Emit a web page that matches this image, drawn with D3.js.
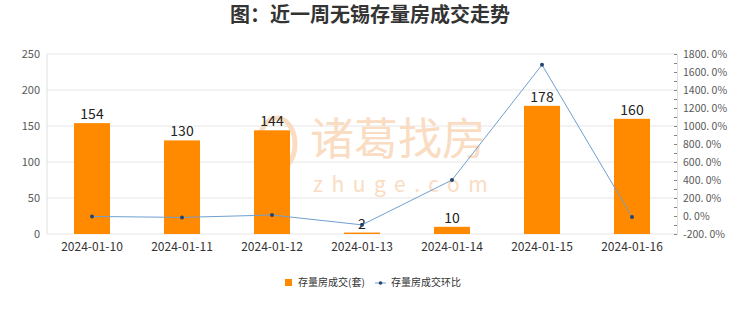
<!DOCTYPE html>
<html>
<head>
<meta charset="utf-8">
<script src="https://cdn.jsdelivr.net/npm/d3@7"></script>
<style>
  body { margin: 0; background: #fff; }
  text { font-family: "Noto Sans CJK SC", "DejaVu Sans", sans-serif; }
</style>
</head>
<body>
<div id="chart"></div>
<script>
// data
var dates = ["2024-01-10", "2024-01-11", "2024-01-12", "2024-01-13", "2024-01-14", "2024-01-15", "2024-01-16"];
var deals = [154, 130, 144, 2, 10, 178, 160];
var ratio = [-5, -15.6, 10.8, -98.6, 400, 1680, -10.1];
var leftTicks = [0, 50, 100, 150, 200, 250];
var rightTicks = [-200, 0, 200, 400, 600, 800, 1000, 1200, 1400, 1600, 1800];

var svgWidth = 740, svgHeight = 312;
var margin = {top: 54, right: 63, bottom: 78, left: 47};
var width = svgWidth - margin.left - margin.right;
var height = svgHeight - margin.top - margin.bottom;

var svg = d3.select("#chart").append("svg")
  .attr("width", svgWidth)
  .attr("height", svgHeight);

// title
svg.append("text")
  .attr("x", 370).attr("y", 22)
  .attr("text-anchor", "middle")
  .attr("font-size", 20).attr("font-weight", "bold")
  .attr("fill", "#333")
  .text("图：近一周无锡存量房成交走势");

var chartGroup = svg.append("g")
  .attr("transform", `translate(${margin.left}, ${margin.top})`);

var x = d3.scaleBand().domain(dates).range([0, width]).paddingInner(0.6).paddingOuter(0.3);
var y = d3.scaleLinear().domain([0, 250]).range([height, 0]);
var y2 = d3.scaleLinear().domain([-200, 1800]).range([height, 0]);

// gridlines
chartGroup.selectAll(".grid").data(leftTicks).enter().append("line")
  .attr("x1", 0).attr("x2", width)
  .attr("y1", d => y(d)).attr("y2", d => y(d))
  .attr("stroke", "#e6e6e6");
chartGroup.append("line")
  .attr("x1", 0).attr("x2", 0).attr("y1", 0).attr("y2", height)
  .attr("stroke", "#e0e0e0");

// watermark
var wm = chartGroup.append("g").attr("fill", "#fadcc2");
wm.append("ellipse").attr("cx", 230).attr("cy", 90).attr("rx", 18).attr("ry", 26)
  .attr("fill", "none").attr("stroke", "#fadcc2").attr("stroke-width", 5);
wm.append("text").attr("x", 263).attr("y", 101).attr("font-size", 44)
  .text("诸葛找房");
wm.append("text").attr("x", 266).attr("y", 138).attr("font-size", 21)
  .attr("font-family", "DejaVu Sans")
  .attr("letter-spacing", 8.5).text("zhuge.com");

// left axis labels
chartGroup.selectAll(".ly").data(leftTicks).enter().append("text")
  .attr("x", -7).attr("y", d => y(d) + 4)
  .attr("text-anchor", "end").attr("font-size", 11).attr("fill", "#595959")
  .text(d => d);

// right axis
var rightAxis = d3.axisRight(y2).tickValues(d3.range(-200, 1801, 100))
  .tickSize(-3).tickFormat("");
var ra = chartGroup.append("g").attr("transform", `translate(${width}, 0)`).call(rightAxis);
ra.select(".domain").attr("stroke", "#e0e0e0");
ra.selectAll(".tick line").attr("stroke", "#888");
chartGroup.selectAll(".ry").data(rightTicks).enter().append("text")
  .attr("x", width + 6).attr("y", d => y2(d) + 4)
  .attr("font-size", 10.5).attr("fill", "#595959")
  .text(d => d + ". 0%");

// bars
chartGroup.selectAll(".bar").data(deals).enter().append("rect")
  .attr("x", (d, i) => x(dates[i]))
  .attr("y", d => y(d))
  .attr("width", x.bandwidth())
  .attr("height", d => height - y(d))
  .attr("fill", "#ff8a00");

chartGroup.selectAll(".blabel").data(deals).enter().append("text")
  .attr("x", (d, i) => x(dates[i]) + x.bandwidth() / 2)
  .attr("y", d => y(d) - 4)
  .attr("text-anchor", "middle").attr("font-size", 14).attr("fill", "#222")
  .text(d => d);

// x labels
chartGroup.selectAll(".xl").data(dates).enter().append("text")
  .attr("x", d => x(d) + x.bandwidth() / 2)
  .attr("y", height + 17)
  .attr("text-anchor", "middle").attr("font-size", 12).attr("fill", "#333")
  .text(d => d);

// ratio line
var line = d3.line()
  .x((d, i) => x(dates[i]) + x.bandwidth() / 2)
  .y(d => y2(d));
chartGroup.append("path").datum(ratio)
  .attr("d", line).attr("fill", "none")
  .attr("stroke", "#6f9fd0").attr("stroke-width", 1);
chartGroup.selectAll(".pt").data(ratio).enter().append("circle")
  .attr("cx", (d, i) => x(dates[i]) + x.bandwidth() / 2)
  .attr("cy", d => y2(d))
  .attr("r", 2).attr("fill", "#24456e");

// legend
var lg = svg.append("g");
lg.append("rect").attr("x", 285).attr("y", 279).attr("width", 7).attr("height", 7).attr("fill", "#ff8a00");
lg.append("text").attr("x", 298).attr("y", 286).attr("font-size", 10).attr("fill", "#333").text("存量房成交(套)");
lg.append("line").attr("x1", 375).attr("x2", 386).attr("y1", 283).attr("y2", 283).attr("stroke", "#6f9fd0");
lg.append("circle").attr("cx", 380.5).attr("cy", 283).attr("r", 1.8).attr("fill", "#24456e");
lg.append("text").attr("x", 391).attr("y", 286).attr("font-size", 10).attr("fill", "#333").text("存量房成交环比");
</script>
</body>
</html>
